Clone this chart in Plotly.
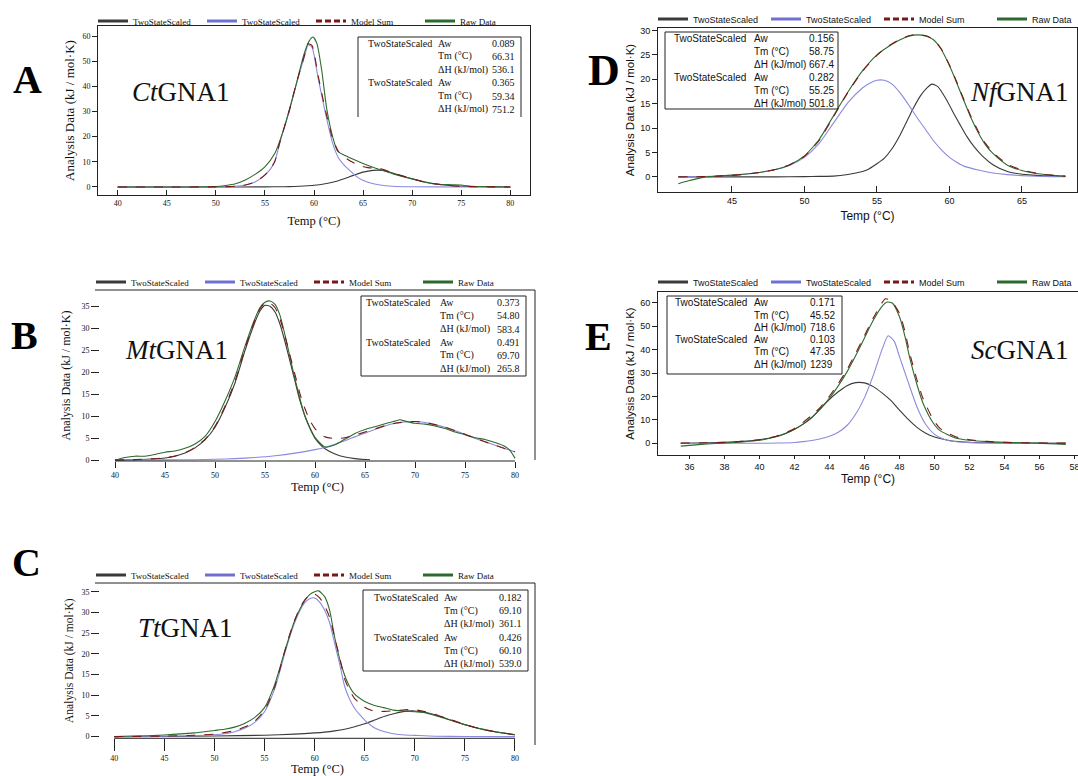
import plotly.graph_objects as go

W, H = 1078, 776

# ---------------- data ----------------
# A : CtGNA1
ct_black_x = [40, 50, 55, 57, 58, 59, 60, 61, 62, 63, 64, 65, 66, 67, 68, 69, 70, 71, 72, 73, 74, 75, 76, 78, 80]
ct_black_y = [0, 0, 0.02, 0.1, 0.2, 0.4, 0.7, 1.2, 2.0, 3.2, 4.6, 5.9, 6.6, 6.6, 5.5, 4.3, 3.2, 2.2, 1.4, 0.9, 0.5, 0.3, 0.15, 0.05, 0]
ct_blue_x = [40, 45, 50, 52, 53, 54, 54.8, 55.5, 56, 56.5, 57, 57.5, 58, 58.4, 59, 59.4, 59.8, 60.4, 61.1, 61.9, 62.5, 63, 63.6, 64.6, 65.5, 66.7, 68, 70, 75, 80]
ct_blue_y = [0, 0, 0.05, 0.3, 0.8, 2.0, 4.1, 6.8, 10, 17.3, 24, 30.5, 38, 43.7, 51.5, 56.5, 55.5, 43.7, 30.5, 17.3, 11.5, 9.0, 6.7, 3.4, 1.9, 0.8, 0.3, 0.1, 0, 0]
ct_sum_x = [40, 45, 50, 52, 53, 54, 54.8, 55.5, 56, 56.5, 57, 57.5, 58, 58.4, 59, 59.4, 59.8, 60.4, 61.1, 61.9, 62.5, 63, 63.6, 64.6, 65.5, 66.7, 68, 69, 70, 71, 72, 73, 74, 75, 76, 78, 80]
ct_sum_y = [0, 0, 0.05, 0.3, 0.8, 2.0, 4.1, 6.9, 10.1, 17.4, 24.1, 30.6, 38.2, 43.9, 51.9, 56.9, 56.2, 44.7, 31.6, 19.2, 14.1, 12.2, 10.5, 8.6, 7.7, 7.4, 5.6, 4.4, 3.3, 2.2, 1.4, 0.9, 0.5, 0.3, 0.15, 0.05, 0]
ct_raw_x = [40, 45, 50, 51, 52, 53, 54, 55, 56, 57, 58, 59, 59.5, 59.9, 60.3, 60.8, 61.3, 62, 62.4, 63, 64, 65, 66, 67, 68, 69, 70, 71, 72, 73, 74, 75, 75.5, 76, 78, 80]
ct_raw_y = [0, 0, 0.2, 0.6, 1.3, 2.8, 5.0, 8.0, 13.3, 24, 38, 53, 58, 59.6, 57, 46, 31, 18.5, 14.2, 12.8, 11, 9.3, 7.8, 6.6, 5.3, 4.2, 3.2, 2.3, 1.5, 1.0, 0.9, 0.8, 0.5, 0.3, 0.15, 0]

# B : MtGNA1
mt_black_x = [40, 42, 44, 45, 46, 47, 48, 49, 50, 51, 52, 53, 54, 54.5, 55, 55.5, 56, 56.5, 57, 57.5, 58, 58.5, 59, 59.5, 60, 60.5, 61, 62, 63, 64, 65, 65.5]
mt_black_y = [0, 0.1, 0.3, 0.5, 0.9, 1.6, 2.8, 4.6, 7.5, 12, 17.6, 25, 31.5, 34, 35.3, 35.1, 33.8, 31, 27, 22.5, 18, 13.5, 10, 7.2, 5, 3.6, 2.6, 1.4, 0.7, 0.35, 0.15, 0.1]
mt_blue_x = [40, 45, 48, 50, 52, 54, 56, 58, 60, 61, 62, 63, 64, 65, 66, 67, 68, 69, 70, 71, 72, 73, 74, 75, 76, 77, 78, 79, 80]
mt_blue_y = [0, 0.05, 0.1, 0.2, 0.35, 0.6, 1.0, 1.6, 2.4, 2.9, 3.6, 4.4, 5.3, 6.2, 7.0, 7.8, 8.4, 8.7, 8.8, 8.6, 8.1, 7.5, 6.7, 5.9, 5.0, 4.2, 3.4, 2.6, 1.9]
mt_sum_x = [40, 42, 44, 45, 46, 47, 48, 49, 50, 51, 52, 53, 54, 54.5, 55, 55.5, 56, 56.5, 57, 57.5, 58, 58.5, 59, 59.5, 60, 60.5, 61, 62, 63, 64, 65, 66, 67, 68, 69, 70, 71, 72, 73, 74, 75, 76, 77, 78, 79, 80]
mt_sum_y = [0, 0.12, 0.33, 0.55, 0.96, 1.7, 2.9, 4.75, 7.7, 12.3, 18.0, 25.5, 32, 34.5, 35.8, 35.8, 34.8, 32.2, 28.3, 23.9, 19.5, 15.1, 11.7, 9.0, 7.2, 6.0, 5.3, 4.9, 5.1, 5.7, 6.4, 7.1, 7.85, 8.4, 8.7, 8.8, 8.6, 8.1, 7.5, 6.7, 5.9, 5.0, 4.2, 3.4, 2.6, 1.9]
mt_raw_x = [40, 41, 42, 43, 44, 45, 46, 47, 48, 49, 50, 51, 52, 53, 54, 54.5, 55, 55.5, 56, 56.5, 57, 57.5, 58, 58.5, 59, 60, 61, 62, 63, 64, 65, 66, 67, 68, 68.5, 69, 70, 71, 72, 73, 74, 75, 76, 77, 78, 79, 79.5, 80]
mt_raw_y = [0, 0.6, 0.9, 0.9, 1.3, 1.8, 2.1, 2.7, 3.7, 5.4, 8.8, 13.5, 19, 26, 32.3, 34.8, 36.0, 36.3, 35.5, 33, 28.5, 23.5, 18.5, 14, 10, 5.2, 3.0, 3.5, 4.8, 6.1, 7.0, 7.6, 8.3, 8.9, 9.2, 8.9, 8.4, 8.2, 7.8, 7.2, 6.4, 5.8, 5.1, 4.7, 4.0, 3.1, 2.2, 0.4]

# C : TtGNA1
tt_black_x = [40, 45, 50, 55, 58, 60, 61, 62, 63, 64, 65, 66, 67, 68, 69, 70, 71, 72, 73, 74, 75, 76, 77, 78, 79, 80]
tt_black_y = [0, 0.05, 0.15, 0.35, 0.6, 0.9, 1.1, 1.4, 1.8, 2.4, 3.1, 4.0, 4.9, 5.6, 6.1, 6.2, 5.9, 5.3, 4.5, 3.7, 2.9, 2.2, 1.6, 1.2, 0.8, 0.5]
tt_blue_x = [40, 45, 48, 50, 51, 52, 53, 54, 55, 56, 56.5, 57, 57.5, 58, 58.5, 59, 59.5, 60, 60.5, 61, 61.5, 62, 62.5, 63, 63.5, 64, 64.5, 65, 66, 67, 68, 69, 70, 72, 75, 80]
tt_blue_y = [0, 0.1, 0.25, 0.45, 0.7, 1.2, 2.0, 3.4, 6.0, 11.5, 15.5, 20, 24, 27.5, 30.3, 32.3, 33.3, 33.5, 32.5, 30.5, 27.5, 22.5, 17.5, 12.1, 9.0, 6.8, 5.3, 4.0, 2.1, 1.2, 0.65, 0.4, 0.3, 0.1, 0.05, 0]
tt_sum_x = [40, 45, 48, 50, 52, 53, 54, 55, 56, 56.5, 57, 57.5, 58, 58.5, 59, 59.5, 60, 60.5, 61, 61.5, 62, 62.5, 63, 63.5, 64, 64.5, 65, 66, 67, 68, 69, 70, 71, 72, 73, 74, 75, 76, 77, 78, 79, 80]
tt_sum_y = [0, 0.15, 0.35, 0.6, 1.45, 2.3, 3.7, 6.35, 11.9, 16.0, 20.5, 24.6, 28.1, 30.95, 33.0, 34.1, 34.4, 33.5, 31.6, 28.8, 23.9, 19.1, 13.9, 11.1, 9.2, 8.05, 7.1, 6.1, 6.1, 6.25, 6.5, 6.5, 6.05, 5.4, 4.55, 3.75, 2.95, 2.25, 1.65, 1.2, 0.8, 0.5]
tt_raw_x = [40, 45, 48, 50, 51, 52, 53, 54, 55, 56, 57, 58, 59, 59.5, 60, 60.4, 61, 61.5, 62, 62.7, 63.3, 63.9, 65, 65.9, 66.9, 67.9, 69, 70, 71, 72, 73, 74, 75, 76, 77, 78, 79, 80]
tt_raw_y = [0, 0.4, 0.9, 1.5, 1.8, 2.3, 3.2, 4.6, 7.0, 12.5, 20.5, 28, 32.8, 34.3, 35.0, 35.2, 33.8, 30.5, 24, 17, 13, 10.5, 8.5, 7.6, 7.0, 6.4, 6.2, 6.0, 5.8, 5.1, 4.4, 3.6, 2.9, 2.2, 1.7, 1.2, 0.8, 0.4]

# D : NfGNA1
nf_black_x = [41.3, 48, 50, 51, 52, 53, 54, 54.3, 55, 55.5, 56, 56.6, 57.2, 57.5, 58, 58.4, 58.8, 59.2, 59.8, 60.3, 60.75, 61.2, 61.7, 62.3, 63, 64, 64.65, 65.5, 66.5, 68]
nf_black_y = [0, 0, 0.05, 0.1, 0.15, 0.5, 1.1, 1.4, 2.7, 3.8, 5.6, 8.6, 12.2, 14.0, 16.6, 18.1, 19.0, 18.5, 15.8, 13.0, 10.6, 8.3, 6.2, 4.2, 2.5, 1.1, 0.7, 0.4, 0.2, 0.08]
nf_blue_x = [41.3, 43, 45, 47, 48, 49, 50, 51, 52, 53, 54, 54.5, 55, 55.5, 56, 56.6, 57.2, 57.8, 58.4, 58.9, 59.5, 60, 60.5, 61, 62, 63, 64, 65, 66, 67, 68]
nf_blue_y = [0, 0.05, 0.3, 0.95, 1.5, 2.4, 4.0, 6.8, 11.0, 15.2, 18.2, 19.2, 19.8, 19.8, 19.1, 17.2, 14.7, 12.0, 9.5, 7.4, 5.4, 4.0, 3.0, 2.2, 1.4, 0.8, 0.45, 0.25, 0.12, 0.06, 0.03]
nf_sum_x = [41.3, 42, 43, 44, 45, 46, 47, 48, 49, 50, 51, 52, 53, 54, 55, 55.8, 56.6, 57.2, 57.8, 58.4, 58.9, 59.4, 60, 60.5, 61, 61.5, 62, 62.5, 63, 64, 65, 66, 67, 68]
nf_sum_y = [0, 0.02, 0.06, 0.15, 0.3, 0.55, 0.95, 1.5, 2.5, 4.2, 7.4, 12.3, 17.3, 21.6, 24.9, 26.8, 28.2, 28.9, 29.2, 28.9, 28.1, 26.4, 22.9, 19.5, 15.8, 12.3, 9.3, 6.8, 5.0, 2.6, 1.4, 0.75, 0.35, 0.15]
nf_raw_x = [41.3, 42, 43, 44, 45, 46, 47, 48, 49, 50, 51, 52, 53, 54, 55, 55.8, 56.6, 57.2, 57.8, 58.4, 58.9, 59.4, 60, 60.5, 61, 61.5, 62, 62.5, 63, 64, 65, 66, 67, 68]
nf_raw_y = [-1.4, -0.8, -0.1, 0.15, 0.35, 0.6, 0.95, 1.5, 2.5, 4.3, 7.6, 12.5, 17.4, 21.7, 25.0, 26.7, 28.1, 28.8, 29.1, 28.8, 28.1, 26.3, 22.8, 19.3, 15.6, 12.0, 9.0, 6.5, 4.8, 2.4, 1.3, 0.7, 0.35, 0.15]

# E : ScGNA1
sc_black_x = [35.5, 37, 38, 39, 40, 41, 41.5, 42, 42.5, 43, 43.5, 44, 44.5, 45, 45.5, 46, 46.5, 47, 47.5, 48, 48.5, 49, 49.5, 50, 50.5, 51, 52, 53, 55, 57.5]
sc_black_y = [0, 0.2, 0.4, 0.8, 1.5, 3.0, 4.3, 6.0, 8.2, 11.0, 15.0, 18.8, 22.0, 24.6, 25.9, 25.8, 24.2, 21.5, 18.3, 14.2, 10.2, 6.8, 4.3, 2.7, 1.7, 1.0, 0.45, 0.2, 0.05, 0]
sc_blue_x = [35.5, 40, 41, 42, 42.5, 43, 43.5, 44, 44.5, 45, 45.5, 46, 46.5, 47, 47.35, 47.7, 48, 48.5, 49, 49.5, 50, 50.5, 51, 52, 53, 55, 57.5]
sc_blue_y = [0, 0, 0.1, 0.35, 0.7, 1.2, 1.9, 3.0, 4.7, 7.6, 12.5, 19.5, 29, 40, 45.9, 43.5, 37, 26, 15.5, 8, 3.8, 1.8, 0.9, 0.3, 0.1, 0, 0]
sc_sum_x = [35.5, 37, 38, 39, 40, 41, 42, 43, 43.5, 44, 44.5, 45, 45.5, 46, 46.5, 47, 47.2, 47.5, 48, 48.3, 48.6, 49, 49.35, 49.9, 50.3, 51.2, 52, 53, 54, 55, 57.5]
sc_sum_y = [0.05, 0.2, 0.4, 0.8, 1.5, 3.1, 6.3, 12.0, 15.6, 20.2, 25.5, 31.5, 38.5, 46, 53.5, 60, 61.7, 61.0, 55.5, 48, 38, 27, 19, 10.5, 6.5, 2.8, 1.5, 0.8, 0.4, 0.2, 0.05]
sc_raw_x = [35.5, 36, 37, 38, 39, 40, 41, 41.5, 42, 42.5, 43, 43.5, 44, 44.5, 45, 45.5, 46, 46.5, 47, 47.3, 47.6, 48, 48.3, 48.6, 49, 49.35, 49.9, 50.3, 51.2, 52, 53, 54, 55, 56, 57.5]
sc_raw_y = [-1.2, -0.9, -0.3, 0.1, 0.6, 1.3, 2.9, 4.2, 6.0, 8.3, 11.2, 14.8, 19.3, 24.5, 30.5, 37.5, 45, 52.5, 58.5, 60.3, 59.8, 54, 46, 36, 25, 17, 9, 5.5, 2.3, 1.3, 0.7, 0.4, 0.2, 0.05, -0.5]

# tick values / legend / table text
ct_xticks = [40, 45, 50, 55, 60, 65, 70, 75, 80]
mt_xticks = [40, 45, 50, 55, 60, 65, 70, 75, 80]
tt_xticks = [40, 45, 50, 55, 60, 65, 70, 75, 80]
nf_xticks = [45, 50, 55, 60, 65]
sc_xticks = [36, 38, 40, 42, 44, 46, 48, 50, 52, 54, 56, 58]
series_names = ["TwoStateScaled", "TwoStateScaled", "Model Sum", "Raw Data"]
param_labels = ["Aw", "Tm (°C)", "ΔH (kJ/mol)"]
ct_params = ["0.089", "66.31", "536.1", "0.365", "59.34", "751.2"]
mt_params = ["0.373", "54.80", "583.4", "0.491", "69.70", "265.8"]
tt_params = ["0.182", "69.10", "361.1", "0.426", "60.10", "539.0"]
nf_params = ["0.156", "58.75", "667.4", "0.282", "55.25", "501.8"]
sc_params = ["0.171", "45.52", "718.6", "0.103", "47.35", "1239"]
panel_letters = ["A", "B", "C", "D", "E"]
protein_names = ["<i>Ct</i>GNA1", "<i>Mt</i>GNA1", "<i>Tt</i>GNA1", "<i>Nf</i>GNA1", "<i>Sc</i>GNA1"]

# ---------------- styling ----------------
SERIF = "Liberation Serif, Times New Roman, serif"
SANS = "Liberation Sans, Arial, sans-serif"
COLORS = ["#3a3a3a", "#8a8ade", "#7a1717", "#2d6a2d"]
LEG_COLORS = ["#3a3a3a", "#7070d2", "#7a1717", "#2d6a2d"]
DASHES = ["solid", "solid", "dash", "solid"]
LEG_DASHES = ["solid", "solid", "6px,3px", "solid"]


def fx(p):
    return p / W


def fy(p):
    return 1 - p / H


panels = [
    dict(series=[(ct_black_x, ct_black_y), (ct_blue_x, ct_blue_y), (ct_sum_x, ct_sum_y), (ct_raw_x, ct_raw_y)],
         params=ct_params, xtv=ct_xticks, font=SERIF, dom=(98, 530, 26, 195), xr=(38, 82), yr=(-3.2, 64), ydt=10,
         style="box", xticks=("inside", 5), yticks=("outside", 5), tfs=8, ttl=12.5, ytl=13,
         legx=93, legy=21, legw=64, box=(358, 521, 37, 117), openbottom=True, row0=43.3, rowstep=13.2,
         cols=(366, 436, 490), sfs=10, letter=(27, 80, 40), name=(181, 92), xstand=9, ystand=4),
    dict(series=[(mt_black_x, mt_black_y), (mt_blue_x, mt_blue_y), (mt_sum_x, mt_sum_y), (mt_raw_x, mt_raw_y)],
         params=mt_params, xtv=mt_xticks, font=SERIF, dom=(100, 535, 290, 461), xr=(38.5, 82), yr=(-0.2, 38.8), ydt=5,
         style="open", xticks=("outside", 6), yticks=("outside", 8), tfs=8, ttl=12.5, ytl=12,
         legx=91, legy=282, legw=64, box=(361, 526, 296, 376), openbottom=False, row0=302.7, rowstep=13.2,
         cols=(364, 438, 495), sfs=10, letter=(24, 335, 40), name=(176, 350), xstand=1, ystand=8,
         topline=(95, 535, 290), rightline=(535, 290, 460)),
    dict(series=[(tt_black_x, tt_black_y), (tt_blue_x, tt_blue_y), (tt_sum_x, tt_sum_y), (tt_raw_x, tt_raw_y)],
         params=tt_params, xtv=tt_xticks, font=SERIF, dom=(100, 535, 583, 738.3), xr=(38.57, 82), yr=(-0.4, 37.1), ydt=5,
         style="open", xticks=("outside", 12), yticks=("outside", 8), tfs=8, ttl=12.5, ytl=11.5,
         legx=91, legy=575, legw=64, box=(363, 528, 590, 671), openbottom=False, row0=597.3, rowstep=13.3,
         cols=(371.7, 441.7, 497.3), sfs=10, letter=(26, 562, 40), name=(185, 628), xstand=1, ystand=5,
         topline=(95, 535, 583), rightline=(535, 583, 745)),
    dict(series=[(nf_black_x, nf_black_y), (nf_blue_x, nf_blue_y), (nf_sum_x, nf_sum_y), (nf_raw_x, nf_raw_y)],
         params=nf_params, xtv=nf_xticks, font=SANS, dom=(658, 1077, 28, 192), xr=(39.9, 68.8), yr=(-3.1, 30.5), ydt=5,
         style="box", xticks=("inside", 6), yticks=("outside", 5), tfs=9, ttl=12, ytl=11.5,
         legx=653, legy=19, legw=68, box=(665, 838, 32, 109), openbottom=False, row0=38, rowstep=13.2,
         cols=(671.7, 751.7, 806.7), sfs=10, letter=(604, 70, 44), name=(1019, 92), xstand=6, ystand=3),
    dict(series=[(sc_black_x, sc_black_y), (sc_blue_x, sc_blue_y), (sc_sum_x, sc_sum_y), (sc_raw_x, sc_raw_y)],
         params=sc_params, xtv=sc_xticks, font=SANS, dom=(658, 1078, 292, 455), xr=(34.2, 58.2), yr=(-5, 64.6), ydt=10,
         style="box", xticks=("outside", 3), yticks=("outside", 5), tfs=9, ttl=12, ytl=11.5,
         legx=653, legy=282, legw=68, box=(667, 842, 296, 374), openbottom=False, row0=302.7, rowstep=12.3,
         cols=(673.3, 751.7, 808.3), sfs=10, letter=(598, 336, 40), name=(1019, 350), xstand=1, ystand=3),
]

fig = go.Figure()
shapes = []
annotations = []
layout_axes = {}

for i, p in enumerate(panels):
    n = "" if i == 0 else str(i + 1)
    xa, ya = "x" + n, "y" + n
    leg = "legend" + n
    font = p["font"]

    # data traces (drawn: components, raw, model sum on top)
    for k in [0, 1, 3, 2]:
        xs, ys = p["series"][k]
        fig.add_trace(go.Scatter(
            x=xs, y=ys, mode="lines", xaxis=xa, yaxis=ya, showlegend=False,
            line=dict(color=COLORS[k], width=1.1, dash=DASHES[k], shape="spline", smoothing=0.6),
            name=series_names[k], hoverinfo="x+y"))
    # legend entries (thick swatches)
    for k in range(4):
        fig.add_trace(go.Scatter(
            x=[None], y=[None], mode="lines", xaxis=xa, yaxis=ya, legend=leg,
            line=dict(color=LEG_COLORS[k], width=3.2, dash=LEG_DASHES[k]),
            name=series_names[k], showlegend=True))

    x0, x1, y0, y1 = p["dom"]
    boxstyle = p["style"] == "box"
    axis_common = dict(showgrid=False, zeroline=False, linecolor="#222", linewidth=1,
                       tickcolor="#222", tickwidth=1, color="#111", automargin=False)
    layout_axes["xaxis" + n] = dict(
        axis_common, domain=[fx(x0), fx(x1)], range=list(p["xr"]), anchor=ya,
        tickmode="array", tickvals=p["xtv"],
        ticks=p["xticks"][0], ticklen=p["xticks"][1],
        showline=boxstyle, mirror=boxstyle, ticklabeloverflow="allow",
        tickfont=dict(family=font, size=p["tfs"], color="#111"),
        title=dict(text="Temp (°C)", font=dict(family=font, size=p["ttl"], color="#111"),
                   standoff=p["xstand"]))
    layout_axes["yaxis" + n] = dict(
        axis_common, domain=[fy(y1), fy(y0)], range=list(p["yr"]), anchor=xa,
        tickmode="linear", tick0=0, dtick=p["ydt"],
        ticks=p["yticks"][0], ticklen=p["yticks"][1],
        showline=boxstyle, mirror=boxstyle,
        tickfont=dict(family=font, size=p["tfs"], color="#111"),
        title=dict(text="Analysis Data (kJ / mol·K)", font=dict(family=font, size=p["ytl"], color="#111"),
                   standoff=p["ystand"]))

    if not boxstyle:
        shapes.append(dict(type="line", xref=xa, yref=ya + " domain", x0=40, x1=80, y0=0, y1=0,
                           line=dict(color="#222", width=1)))
        tx0, tx1, ty = p["topline"]
        shapes.append(dict(type="line", xref="paper", yref="paper", x0=fx(tx0), x1=fx(tx1),
                           y0=fy(ty), y1=fy(ty), line=dict(color="#222", width=1)))
        rx, ry0, ry1 = p["rightline"]
        shapes.append(dict(type="line", xref="paper", yref="paper", x0=fx(rx), x1=fx(rx),
                           y0=fy(ry0), y1=fy(ry1), line=dict(color="#222", width=1)))

    # statistics box
    bx0, bx1, by0, by1 = p["box"]
    if p["openbottom"]:
        shapes.append(dict(type="path", xref="paper", yref="paper",
                           path=f"M{fx(bx0)},{fy(by1)} L{fx(bx0)},{fy(by0)} L{fx(bx1)},{fy(by0)} L{fx(bx1)},{fy(by1)}",
                           line=dict(color="#222", width=1)))
    else:
        shapes.append(dict(type="rect", xref="paper", yref="paper", x0=fx(bx0), x1=fx(bx1),
                           y0=fy(by1), y1=fy(by0), line=dict(color="#222", width=1),
                           fillcolor="rgba(255,255,255,0)"))
    c1, c2, c3 = p["cols"]
    for r in range(6):
        yy = fy(p["row0"] + r * p["rowstep"])
        tf = dict(family=font, size=p["sfs"], color="#111")
        if r % 3 == 0:
            annotations.append(dict(text=series_names[0 if r == 0 else 1], x=fx(c1), y=yy, xref="paper",
                                    yref="paper", xanchor="left", yanchor="middle", showarrow=False, font=tf))
        annotations.append(dict(text=param_labels[r % 3], x=fx(c2), y=yy, xref="paper", yref="paper",
                                xanchor="left", yanchor="middle", showarrow=False, font=tf))
        annotations.append(dict(text=p["params"][r], x=fx(c3), y=yy, xref="paper", yref="paper",
                                xanchor="left", yanchor="middle", showarrow=False, font=tf))

    # panel letter and protein name
    lx, ly, lsize = p["letter"]
    annotations.append(dict(text=f"<b>{panel_letters[i]}</b>", x=fx(lx), y=fy(ly), xref="paper", yref="paper",
                            xanchor="center", yanchor="middle", showarrow=False,
                            font=dict(family=SERIF, size=lsize, color="#000")))
    nx, ny = p["name"]
    annotations.append(dict(text=protein_names[i], x=fx(nx), y=fy(ny), xref="paper", yref="paper",
                            xanchor="center", yanchor="middle", showarrow=False,
                            font=dict(family=SERIF, size=27, color="#111")))

    layout_axes[leg] = dict(orientation="h", x=fx(p["legx"]), y=fy(p["legy"]), xanchor="left",
                            yanchor="middle", bgcolor="rgba(0,0,0,0)", borderwidth=0,
                            font=dict(family=font, size=9, color="#111"), itemclick=False,
                            itemdoubleclick=False, tracegroupgap=0, entrywidth=p["legw"])

fig.update_layout(
    width=W, height=H, margin=dict(l=0, r=0, t=0, b=0, autoexpand=False),
    paper_bgcolor="white", plot_bgcolor="white",
    shapes=shapes, annotations=annotations, hovermode="closest",
    **layout_axes)

fig.write_html("out.html", config={"displayModeBar": False},
               post_script="document.body.style.margin='0px';document.body.style.overflow='hidden';")
